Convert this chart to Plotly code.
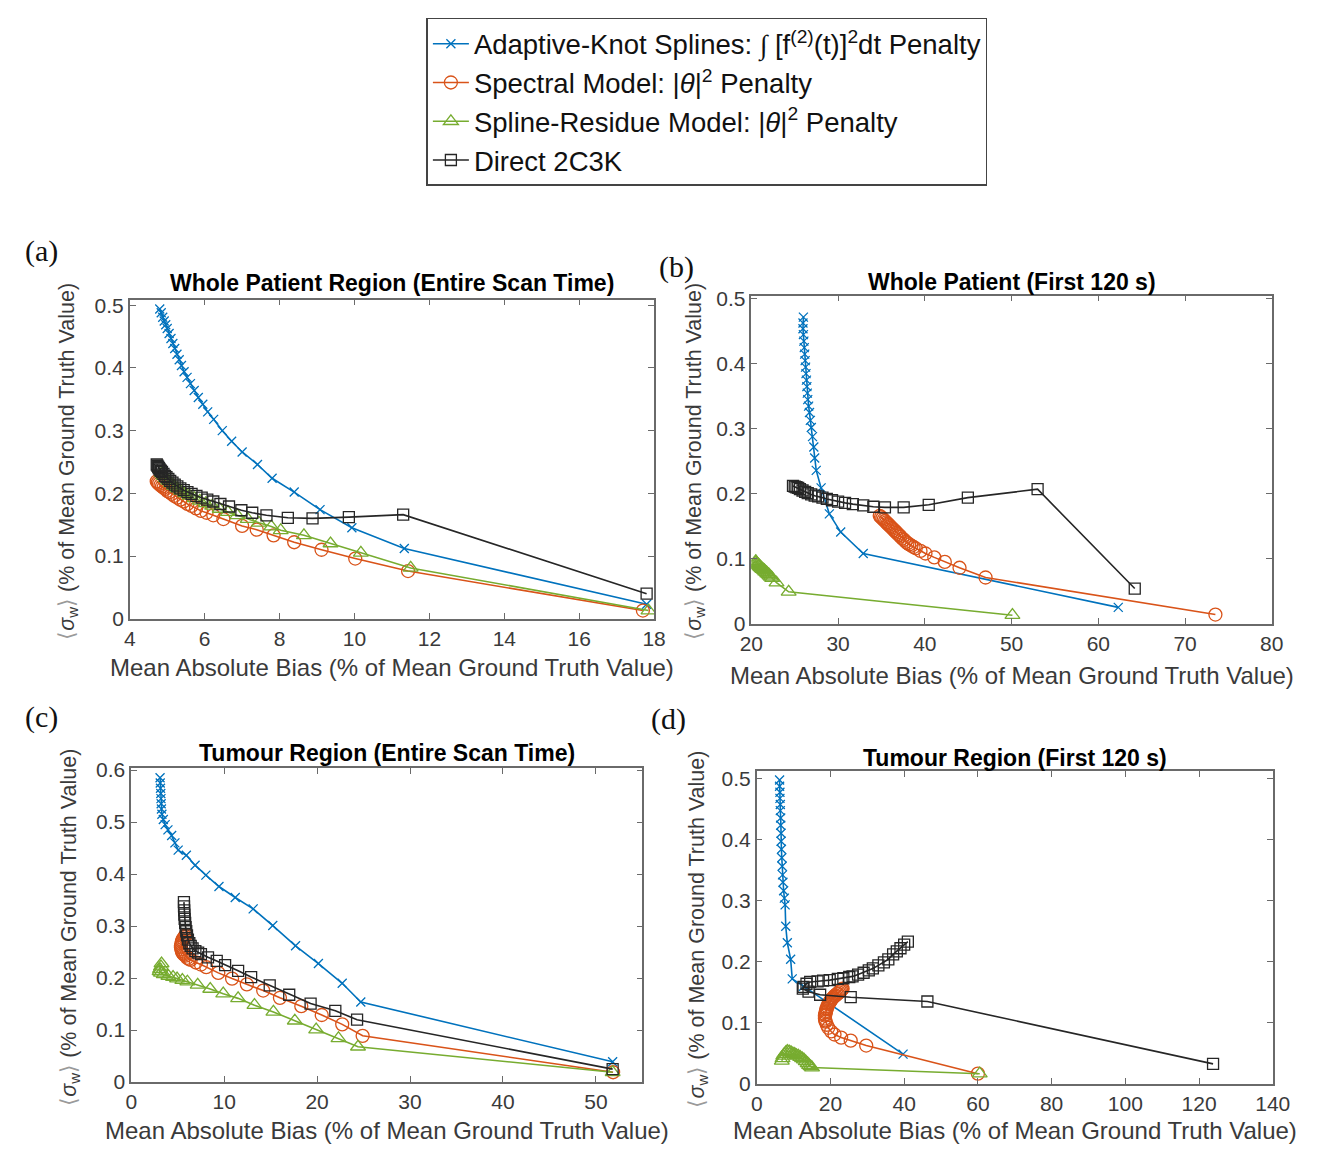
import plotly.graph_objects as go

W, H = 1324, 1153

# ---------------- data ----------------
series_names = [
    "Adaptive-Knot Splines: <span style='font-family:Liberation Serif'><i>∫</i></span> [f<sup>(2)</sup>(t)]<sup>2</sup>dt Penalty",
    "Spectral Model: |<i>θ</i>|<sup>2</sup> Penalty",
    "Spline-Residue Model: |<i>θ</i>|<sup>2</sup> Penalty",
    "Direct 2C3K",
]

# Panel (a) Whole Patient Region (Entire Scan Time)
a_blue_x = [4.80, 4.84, 4.88, 4.92, 4.96, 5.00, 5.05, 5.10, 5.15, 5.20, 5.26, 5.32, 5.38, 5.45, 5.53, 5.62, 5.72,
            5.83, 5.95, 6.08, 6.24, 6.47, 6.72, 7.00, 7.41, 7.80, 8.39, 9.08, 9.93, 11.33, 17.80]
a_blue_y = [0.494, 0.488, 0.481, 0.475, 0.469, 0.463, 0.455, 0.447, 0.439, 0.431, 0.422, 0.413, 0.404, 0.394, 0.385,
            0.375, 0.364, 0.353, 0.342, 0.330, 0.318, 0.300, 0.283, 0.266, 0.246, 0.224, 0.202, 0.174, 0.145, 0.112, 0.023]
a_orange_x = [4.72, 4.75, 4.78, 4.82, 4.86, 4.90, 4.95, 5.00, 5.06, 5.12, 5.19, 5.27, 5.35, 5.44, 5.54, 5.65, 5.77,
              5.90, 6.05, 6.23, 6.50, 7.00, 7.39, 7.84, 8.39, 9.12, 10.02, 11.43, 17.70]
a_orange_y = [0.219, 0.217, 0.215, 0.213, 0.211, 0.209, 0.207, 0.204, 0.202, 0.199, 0.196, 0.193, 0.190, 0.187, 0.183,
              0.180, 0.176, 0.172, 0.169, 0.165, 0.159, 0.148, 0.142, 0.133, 0.122, 0.110, 0.096, 0.076, 0.013]
a_green_x = [4.85, 4.90, 4.96, 5.03, 5.10, 5.18, 5.27, 5.37, 5.48, 5.60, 5.73, 5.87, 6.03, 6.20, 6.40, 6.62, 6.87,
             7.15, 7.45, 7.78, 8.03, 8.65, 9.36, 10.17, 11.50, 17.85]
a_green_y = [0.232, 0.228, 0.224, 0.220, 0.216, 0.212, 0.208, 0.204, 0.200, 0.196, 0.192, 0.188, 0.184, 0.180, 0.175,
             0.170, 0.165, 0.159, 0.153, 0.147, 0.141, 0.133, 0.120, 0.105, 0.081, 0.013]
a_black_x = [4.72, 4.74, 4.76, 4.78, 4.80, 4.83, 4.86, 4.90, 4.94, 4.98, 5.03, 5.08, 5.14, 5.20, 5.27, 5.35, 5.44,
             5.54, 5.65, 5.78, 5.92, 6.07, 6.23, 6.42, 6.65, 6.98, 7.27, 7.65, 8.22, 8.88, 9.85, 11.30, 17.80]
a_black_y = [0.246, 0.244, 0.242, 0.240, 0.238, 0.236, 0.234, 0.231, 0.228, 0.226, 0.223, 0.220, 0.217, 0.214, 0.211,
             0.208, 0.205, 0.202, 0.199, 0.196, 0.193, 0.190, 0.187, 0.183, 0.179, 0.173, 0.169, 0.165, 0.161, 0.160,
             0.162, 0.166, 0.040]

# Panel (b) Whole Patient (First 120 s)
b_blue_x = [26.0, 25.95, 25.95, 26.0, 26.05, 26.1, 26.15, 26.2, 26.25, 26.3, 26.35, 26.4, 26.45, 26.5, 26.6, 26.7,
            26.8, 26.91, 27.05, 27.2, 27.3, 27.48, 28.04, 28.99, 30.3, 32.9, 62.3]
b_blue_y = [0.472, 0.463, 0.454, 0.445, 0.435, 0.425, 0.415, 0.405, 0.395, 0.385, 0.375, 0.365, 0.355, 0.345, 0.335,
            0.325, 0.313, 0.302, 0.288, 0.272, 0.255, 0.236, 0.209, 0.169, 0.141, 0.108, 0.025]
b_orange_x = [34.8, 34.95, 35.1, 35.25, 35.4, 35.55, 35.7, 35.85, 36.0, 36.15, 36.3, 36.45, 36.6, 36.75, 36.9, 37.05,
              37.2, 37.4, 37.6, 37.8, 38.0, 38.2, 38.45, 38.7, 38.95, 39.5, 40.07, 41.09, 42.3, 44.0, 47.0, 73.5]
b_orange_y = [0.166, 0.164, 0.162, 0.160, 0.158, 0.156, 0.154, 0.152, 0.150, 0.148, 0.146, 0.144, 0.142, 0.140, 0.138,
              0.136, 0.134, 0.131, 0.129, 0.126, 0.124, 0.122, 0.120, 0.118, 0.116, 0.112, 0.108, 0.102, 0.095, 0.086,
              0.071, 0.014]
b_green_x = [20.5, 20.55, 20.6, 20.7, 20.75, 20.85, 20.9, 21.0, 21.05, 21.15, 21.2, 21.3, 21.4, 21.5, 21.6, 21.75,
             21.85, 22.0, 22.1, 22.25, 22.4, 22.9, 24.3, 50.1]
b_green_y = [0.096, 0.095, 0.093, 0.092, 0.091, 0.090, 0.089, 0.088, 0.087, 0.086, 0.085, 0.084, 0.083, 0.082, 0.080,
             0.079, 0.077, 0.076, 0.074, 0.072, 0.070, 0.063, 0.049, 0.013]
b_black_x = [24.8, 25.0, 25.2, 25.4, 25.6, 25.9, 26.2, 26.5, 26.9, 27.3, 27.7, 28.2, 28.7, 29.3, 30.0, 30.8, 31.7,
             32.9, 34.06, 35.4, 37.56, 40.45, 44.96, 53.0, 64.2]
b_black_y = [0.212, 0.211, 0.210, 0.209, 0.207, 0.205, 0.203, 0.201, 0.199, 0.197, 0.196, 0.194, 0.192, 0.190, 0.188,
             0.186, 0.184, 0.182, 0.180, 0.179, 0.179, 0.183, 0.194, 0.207, 0.054]

# Panel (c) Tumour Region (Entire Scan Time)
c_blue_x = [3.10, 3.12, 3.15, 3.18, 3.20, 3.22, 3.25, 3.30, 3.45, 3.65, 3.95, 4.35, 4.70, 5.05, 5.93, 6.87, 8.03,
            9.44, 11.19, 13.12, 15.23, 17.68, 20.14, 22.7, 24.7, 51.8]
c_blue_y = [0.585, 0.575, 0.565, 0.555, 0.545, 0.535, 0.525, 0.515, 0.505, 0.495, 0.485, 0.474, 0.460, 0.446, 0.436,
            0.417, 0.398, 0.376, 0.355, 0.333, 0.301, 0.262, 0.228, 0.190, 0.154, 0.039]
c_orange_x = [5.9, 5.8, 5.7, 5.6, 5.5, 5.45, 5.4, 5.35, 5.35, 5.4, 5.45, 5.5, 5.6, 5.7, 5.85, 6.0, 6.2, 6.4, 6.96,
              7.5, 8.07, 9.37, 10.85, 12.44, 14.2, 16.0, 18.3, 20.5, 22.7, 24.9, 51.85]
c_orange_y = [0.283, 0.281, 0.279, 0.276, 0.273, 0.270, 0.266, 0.262, 0.259, 0.255, 0.252, 0.249, 0.247, 0.245, 0.243,
              0.239, 0.237, 0.235, 0.230, 0.226, 0.221, 0.210, 0.199, 0.188, 0.176, 0.162, 0.146, 0.129, 0.111, 0.089,
              0.019]
c_green_x = [3.26, 3.2, 3.1, 3.05, 3.2, 3.5, 4.0, 4.5, 4.93, 5.5, 6.04, 7.15, 8.5, 9.9, 11.5, 13.26, 15.3, 17.6,
             19.9, 22.3, 24.4, 51.8]
c_green_y = [0.228, 0.222, 0.217, 0.213, 0.210, 0.207, 0.204, 0.202, 0.199, 0.196, 0.193, 0.187, 0.179, 0.170, 0.161,
             0.148, 0.135, 0.118, 0.101, 0.084, 0.068, 0.019]
c_black_x = [5.67, 5.68, 5.70, 5.72, 5.75, 5.80, 5.85, 5.92, 6.0, 6.1, 6.25, 6.4, 6.6, 6.9, 7.2, 7.5, 8.26, 9.2,
             10.1, 11.5, 12.9, 14.9, 17.0, 19.3, 21.96, 24.3, 51.8]
c_black_y = [0.346, 0.338, 0.330, 0.322, 0.314, 0.306, 0.298, 0.290, 0.282, 0.274, 0.267, 0.262, 0.257, 0.252, 0.249,
             0.246, 0.240, 0.233, 0.225, 0.214, 0.202, 0.186, 0.168, 0.151, 0.137, 0.120, 0.025]

# Panel (d) Tumour Region (First 120 s)
d_blue_x = [6.2, 6.2, 6.3, 6.3, 6.4, 6.4, 6.5, 6.5, 6.6, 6.6, 6.7, 6.8, 6.9, 7.0, 7.1, 7.3, 7.5, 7.7, 7.87, 8.3,
            9.2, 9.63, 12.7, 39.7]
d_blue_y = [0.497, 0.487, 0.477, 0.467, 0.457, 0.447, 0.435, 0.423, 0.410, 0.397, 0.384, 0.370, 0.356, 0.342, 0.330,
            0.316, 0.304, 0.293, 0.258, 0.231, 0.204, 0.172, 0.160, 0.049]
d_orange_x = [23.3, 23.1, 22.9, 22.6, 22.3, 22.0, 21.7, 21.4, 21.1, 20.8, 20.5, 20.2, 20.0, 19.8, 19.6, 19.4, 19.2,
              19.0, 18.9, 18.8, 18.7, 18.6, 18.5, 18.5, 18.6, 18.7, 19.0, 19.4, 20.2, 21.1, 22.9, 25.5, 29.7, 60.0]
d_orange_y = [0.156, 0.155, 0.153, 0.152, 0.150, 0.148, 0.147, 0.145, 0.144, 0.142, 0.140, 0.138, 0.136, 0.134, 0.132,
              0.130, 0.127, 0.124, 0.122, 0.119, 0.117, 0.114, 0.112, 0.107, 0.104, 0.102, 0.097, 0.092, 0.086, 0.081,
              0.076, 0.071, 0.063, 0.017]
d_green_x = [6.8, 7.0, 7.2, 7.5, 7.9, 8.3, 8.8, 9.3, 9.8, 10.3, 10.8, 11.3, 11.8, 12.3, 12.8, 13.3, 13.8, 14.2, 14.6,
             15.0, 60.5]
d_green_y = [0.038, 0.042, 0.046, 0.049, 0.052, 0.054, 0.053, 0.052, 0.050, 0.049, 0.047, 0.046, 0.044, 0.042, 0.040,
             0.037, 0.034, 0.031, 0.029, 0.027, 0.017]
d_black_x = [41.0, 40.0, 39.0, 38.0, 37.0, 35.7, 34.5, 33.0, 31.5, 30.4, 29.0, 27.5, 26.0, 25.1, 23.5, 22.0, 19.8,
             18.0, 16.5, 14.5, 13.5, 12.7, 12.5, 14.05, 17.2, 25.5, 46.3, 123.8]
d_black_y = [0.233, 0.228, 0.222, 0.217, 0.212, 0.204, 0.199, 0.194, 0.189, 0.186, 0.182, 0.179, 0.176, 0.175, 0.173,
             0.172, 0.170, 0.169, 0.168, 0.167, 0.164, 0.159, 0.156, 0.151, 0.146, 0.142, 0.135, 0.033]

panel_titles = ["Whole Patient Region (Entire Scan Time)", "Whole Patient (First 120 s)",
                "Tumour Region (Entire Scan Time)", "Tumour Region (First 120 s)"]
panel_letters = ["(a)", "(b)", "(c)", "(d)"]
x_title = "Mean Absolute Bias (% of Mean Ground Truth Value)"
y_title = ("<span style='color:#9a9a9a'>⟨</span><i>σ</i><sub>w</sub>"
           "<span style='color:#9a9a9a'>⟩</span> (% of Mean Ground Truth Value)")

a_xticks = [4, 6, 8, 10, 12, 14, 16, 18]
b_xticks = [20, 30, 40, 50, 60, 70, 80]
c_xticks = [0, 10, 20, 30, 40, 50]
d_xticks = [0, 20, 40, 60, 80, 100, 120, 140]
ab_yticks = [0, 0.1, 0.2, 0.3, 0.4, 0.5]
c_yticks = [0, 0.1, 0.2, 0.3, 0.4, 0.5, 0.6]

# ---------------- styling ----------------
BLUE, ORANGE, GREEN, BLACK = "#0072BD", "#D95319", "#77AC30", "#262626"
styles = [
    dict(color=BLUE, symbol="x-thin-open", size=9),
    dict(color=ORANGE, symbol="circle-open", size=13),
    dict(color=GREEN, symbol="triangle-up-open", size=13),
    dict(color=BLACK, symbol="square-open", size=11),
]

def px2x(p):
    return p / W

def px2y(p):
    return 1 - p / H

# panel geometry in pixels: left, right, top, bottom
geom = [
    (120.5, 657, 295, 620),
    (756.5, 1289, 291, 625),
    (122, 645, 772, 1092),
    (762, 1290, 775, 1094),
]
xranges = [[4, 18], [20, 80], [0, 55], [0, 140]]
yranges = [[0, 0.509], [0, 0.505], [0, 0.604], [0, 0.512]]
xticks = [a_xticks, b_xticks, c_xticks, d_xticks]
yticks = [ab_yticks, ab_yticks, c_yticks, ab_yticks]
title_centers = [278, 277, 757, 762]
xtitle_centers = [670, 678, 1141, 1141]
ytitle_x = [57, 699, 60, 702]

data = [
    [(a_blue_x, a_blue_y), (a_orange_x, a_orange_y), (a_green_x, a_green_y), (a_black_x, a_black_y)],
    [(b_blue_x, b_blue_y), (b_orange_x, b_orange_y), (b_green_x, b_green_y), (b_black_x, b_black_y)],
    [(c_blue_x, c_blue_y), (c_orange_x, c_orange_y), (c_green_x, c_green_y), (c_black_x, c_black_y)],
    [(d_blue_x, d_blue_y), (d_orange_x, d_orange_y), (d_green_x, d_green_y), (d_black_x, d_black_y)],
]

fig = go.Figure()
FONT = "Liberation Sans, Arial, sans-serif"
TICKC = "#3a3a3a"

for p in range(4):
    suffix = "" if p == 0 else str(p + 1)
    for s in range(4):
        xs, ys = data[p][s]
        st = styles[s]
        fig.add_trace(go.Scatter(
            x=xs, y=ys, mode="lines+markers", name=series_names[s],
            legendgroup=f"g{s}", showlegend=(p == 0),
            line=dict(color=st["color"], width=1.6),
            marker=dict(symbol=st["symbol"], size=st["size"], color=st["color"],
                        line=dict(color=st["color"], width=1.3)),
            xaxis="x" + suffix, yaxis="y" + suffix,
        ))

layout = dict(
    width=W, height=H, margin=dict(l=0, r=0, t=0, b=0),
    paper_bgcolor="white", plot_bgcolor="white",
    font=dict(family=FONT, color=TICKC),
    legend=dict(
        x=px2x(424), y=px2y(8), xanchor="left", yanchor="top",
        bordercolor="#444", borderwidth=1.5, bgcolor="white",
        font=dict(family=FONT, size=27.5, color="#111"),
        traceorder="grouped", tracegroupgap=0, itemwidth=36,
    ),
)

annotations = []
for p in range(4):
    l, r, t, b = geom[p]
    suffix = "" if p == 0 else str(p + 1)
    ax_common = dict(
        showline=True, linecolor="#6a6a6a", linewidth=1.5, mirror="ticks",
        ticks="inside", ticklen=6, tickcolor="#6a6a6a", tickwidth=1.2,
        showgrid=False, zeroline=False,
        tickfont=dict(family=FONT, size=21, color=TICKC),
    )
    layout["xaxis" + suffix] = dict(
        ax_common, domain=[px2x(l), px2x(r)], range=xranges[p],
        tickmode="array", tickvals=xticks[p], ticktext=[str(v) for v in xticks[p]],
        anchor="y" + suffix,
    )
    layout["yaxis" + suffix] = dict(
        ax_common, domain=[px2y(b), px2y(t)], range=yranges[p],
        tickmode="array", tickvals=yticks[p],
        ticktext=["0" if v == 0 else f"{v:.1f}" for v in yticks[p]],
        anchor="x" + suffix,
    )
    cx = (l + r) / 2
    annotations.append(dict(
        text=f"<b>{panel_titles[p]}</b>", x=px2x(cx), y=px2y(title_centers[p]), xref="paper", yref="paper",
        xanchor="center", yanchor="middle", showarrow=False,
        font=dict(family=FONT, size=23, color="#000"),
    ))
    annotations.append(dict(
        text=x_title, x=px2x(cx), y=px2y(xtitle_centers[p]), xref="paper", yref="paper",
        xanchor="center", yanchor="middle", showarrow=False,
        font=dict(family=FONT, size=24, color=TICKC),
    ))
    annotations.append(dict(
        text=y_title, x=px2x(ytitle_x[p]), y=px2y((t + b) / 2 + 2), xref="paper", yref="paper",
        xanchor="center", yanchor="middle", showarrow=False, textangle=-90,
        font=dict(family=FONT, size=21.5, color=TICKC),
    ))

letter_pos = [(30, 245), (680, 262), (30, 720), (672, 722)]
for p in range(4):
    lx, ly = letter_pos[p]
    annotations.append(dict(
        text=panel_letters[p], x=px2x(lx), y=px2y(ly), xref="paper", yref="paper",
        xanchor="center", yanchor="middle", showarrow=False,
        font=dict(family="Liberation Serif, Times New Roman, serif", size=30, color="#111"),
    ))

layout["annotations"] = annotations
fig.update_layout(**layout)
fig.write_html("out.html")
